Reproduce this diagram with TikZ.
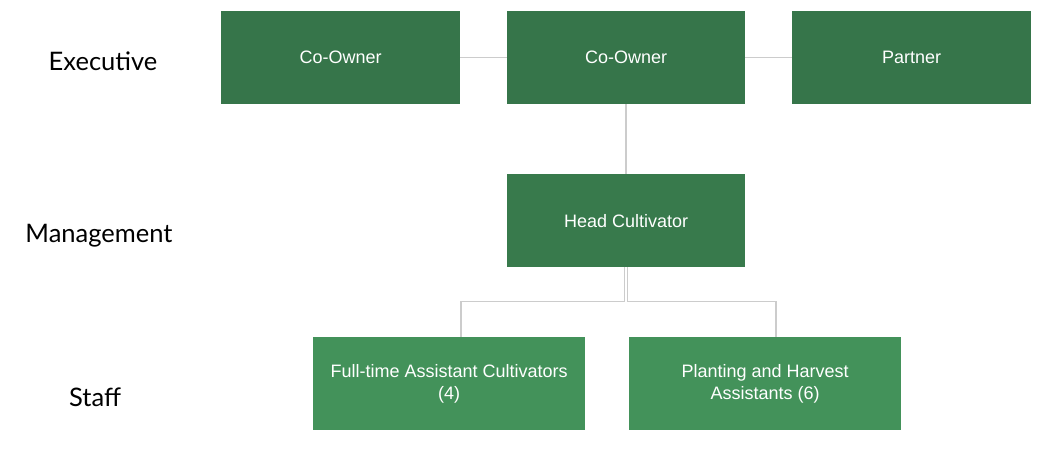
\documentclass[tikz,border=0pt]{standalone}
\usepackage{fontspec}
\setmainfont{Liberation Sans}
\newfontfamily\levelfont{Lato}
\begin{document}
\begin{tikzpicture}[x=1pt,y=-1pt,
  exec/.style={draw=none,fill=execgreen,text=white,font=\fontsize{18}{22}\selectfont,align=center,inner sep=0pt},
  mgmt/.style={exec,fill=mgmtgreen},
  staffbox/.style={exec,fill=staffgreen},
  level/.style={font=\levelfont\fontsize{25.5}{30}\selectfont,text=black},
  conn/.style={draw=linegray,line width=1.5pt}
]
\definecolor{execgreen}{HTML}{36754A}
\definecolor{mgmtgreen}{HTML}{387A4C}
\definecolor{staffgreen}{HTML}{43925A}
\definecolor{linegray}{HTML}{CCCCCC}
\useasboundingbox (0,0) rectangle (1047,466);

\node[exec,minimum width=239pt,minimum height=93pt,anchor=north west] (co1) at (221,11) {Co-Owner};
\node[exec,minimum width=238pt,minimum height=93pt,anchor=north west] (co2) at (507,11) {Co-Owner};
\node[exec,minimum width=239pt,minimum height=93pt,anchor=north west] (partner) at (792,11) {Partner};
\node[mgmt,minimum width=238pt,minimum height=93pt,anchor=north west] (head) at (507,174) {Head Cultivator};
\node[staffbox,minimum width=272pt,minimum height=93pt,anchor=north west] (fta) at (313,337) {Full-time Assistant Cultivators\\(4)};
\node[staffbox,minimum width=272pt,minimum height=93pt,anchor=north west] (pha) at (629,337) {Planting and Harvest\\Assistants (6)};

\coordinate (hl) at ([xshift=-1.5pt]head.south);
\coordinate (hr) at ([xshift=1.5pt]head.south);
\coordinate (ftatop) at ([xshift=12pt]fta.north);
\coordinate (phatop) at ([xshift=11pt]pha.north);

\draw[conn] (co1.east) -- (co2.west);
\draw[conn] (co2.east) -- (partner.west);
\draw[conn] (co2.south) -- (head.north);
\draw[conn] (hl) -- ++(0,34) -| (ftatop);
\draw[conn] (hr) -- ++(0,34) -| (phatop);

\node[level] (lexec) at (103,61) {Executive};
\node[level] (lmgmt) at (99,236) {Management};
\node[level] (lstaff) at (95,397) {Staff};
\end{tikzpicture}
\end{document}
